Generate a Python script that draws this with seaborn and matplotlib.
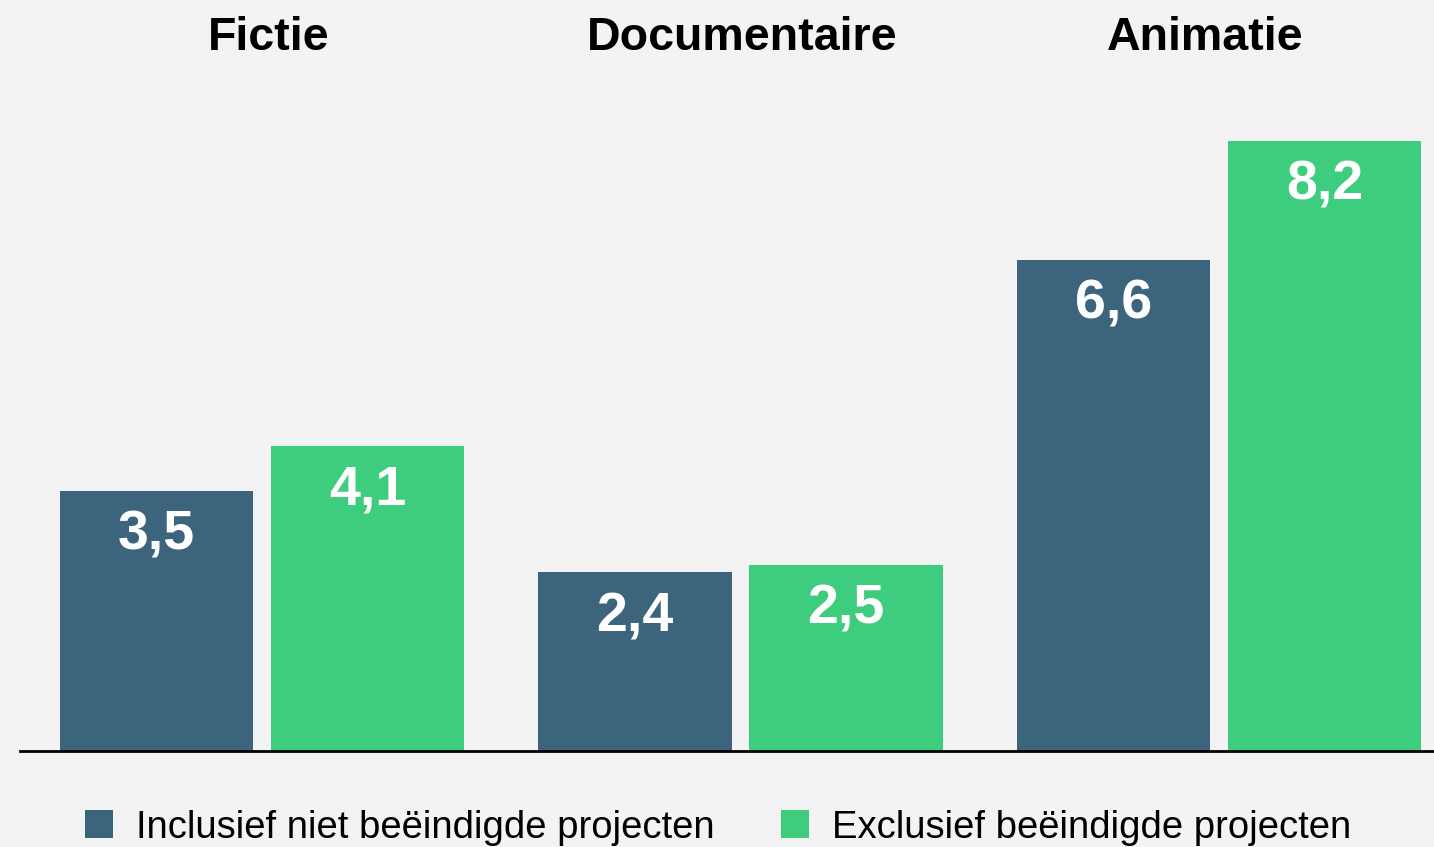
import matplotlib
matplotlib.use("Agg")
import matplotlib.pyplot as plt
from matplotlib.patches import Patch
import seaborn as sns
import pandas as pd

categories = ["Fictie", "Documentaire", "Animatie"]
series_names = ["Inclusief niet beëindigde projecten", "Exclusief beëindigde projecten"]
incl_values = [3.5, 2.4, 6.6]
excl_values = [4.1, 2.5, 8.2]
colors = ["#3d647d", "#3ecc7e"]
bg = "#f3f3f3"

df = pd.DataFrame({
    "categorie": categories * 2,
    "serie": [series_names[0]] * 3 + [series_names[1]] * 3,
    "waarde": incl_values + excl_values,
})

sns.set_theme(style="white")
plt.rcParams["font.family"] = ["Liberation Sans", "DejaVu Sans"]

W, H = 1434, 847
fig = plt.figure(figsize=(W / 100, H / 100), dpi=100, facecolor=bg)
ax_left, ax_right = 20, 1434
ax_bottom, ax_top = 751, 80
ax = fig.add_axes([ax_left / W, 1 - ax_bottom / H, (ax_right - ax_left) / W, (ax_bottom - ax_top) / H])
ax.set_facecolor(bg)

sns.barplot(data=df, x="categorie", y="waarde", hue="serie", order=categories,
            hue_order=series_names, palette=colors, width=0.882, gap=0.085,
            saturation=1, linewidth=0, edgecolor="none", ax=ax, legend=False)

px_per_unit = 74.4
ax.set_ylim(0, (ax_bottom - ax_top) / px_per_unit)
unit_px = 478.5
left = -(262 - ax_left) / unit_px
ax.set_xlim(left, left + (ax_right - ax_left) / unit_px)

for cont in ax.containers:
    labels = [f"{b.get_height():.1f}".replace(".", ",") for b in cont]
    ax.bar_label(cont, labels=labels, label_type="edge", padding=-51,
                 color="white", fontsize=40, fontweight="bold")

title_x_px = [268.5, 742, 1205]
for xp, c in zip(title_x_px, categories):
    fig.text(xp / W, 1 - 37.5 / H, c, ha="center", va="center",
             fontsize=33.5, fontweight="bold", color="black")

for s in ["top", "right", "left"]:
    ax.spines[s].set_visible(False)
ax.spines["bottom"].set_color("black")
ax.spines["bottom"].set_linewidth(2)
ax.set_xticks([])
ax.set_yticks([])
ax.set_xlabel("")
ax.set_ylabel("")

handles = [Patch(facecolor=colors[0], edgecolor="none"), Patch(facecolor=colors[1], edgecolor="none")]
fig.legend(handles, series_names, loc="center left", bbox_to_anchor=(85 / W, 1 - 827.5 / H),
           ncol=2, frameon=False, fontsize=27.5, handlelength=0.73, handleheight=0.73,
           handletextpad=0.6, columnspacing=1.74, borderaxespad=0, borderpad=0,
           labelcolor="black")

fig.savefig("out.png", dpi=100, facecolor=bg)
